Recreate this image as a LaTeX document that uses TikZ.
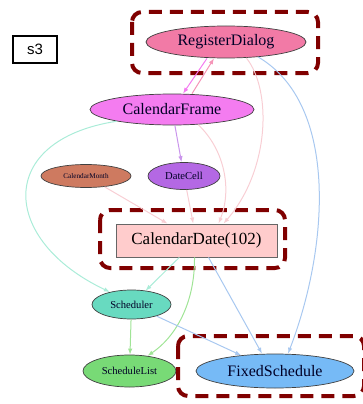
\documentclass[tikz,border=0pt]{standalone}
\usepackage{fontspec}
\setmainfont{Liberation Serif}
\newfontfamily\labelfont{Liberation Sans}
\usepackage{tikz}
\definecolor{regPink}{RGB}{242,122,166}
\definecolor{frameMagenta}{RGB}{244,124,240}
\definecolor{monthBrown}{RGB}{206,122,96}
\definecolor{cellPurple}{RGB}{180,104,228}
\definecolor{datePink}{RGB}{255,204,204}
\definecolor{schedTeal}{RGB}{104,218,192}
\definecolor{listGreen}{RGB}{120,218,118}
\definecolor{fixedBlue}{RGB}{118,186,246}
\definecolor{hlRed}{RGB}{128,0,0}
\definecolor{edgeTeal}{RGB}{170,236,216}
\definecolor{edgePink}{RGB}{248,206,212}
\definecolor{edgeBlue}{RGB}{168,200,240}
\definecolor{edgeGreen}{RGB}{160,228,150}
\usetikzlibrary{shapes.geometric, arrows.meta}
\tikzstyle{cls} = [draw=black!75, ellipse, inner sep=0pt, line width=0.7pt, text=black!85!blue]
\tikzstyle{focus} = [draw=black!60, rectangle, line width=0.8pt, fill=datePink]
\tikzstyle{hl} = [draw=hlRed, line width=4pt, rounded corners=10pt, dash pattern=on 13pt off 8pt]
\tikzstyle{dep} = [->, line width=1pt]
\tikzstyle{tag} = [draw, line width=1.6pt, rectangle, minimum width=44pt, minimum height=27pt]

\begin{document}
\begin{tikzpicture}[x=1pt, y=-1pt, >={Latex[length=6pt,width=4.5pt]}]
        \useasboundingbox (0,0) rectangle (363,404);
        % the classes of the graph
        \node [tag, font=\labelfont\fontsize{15}{17}\selectfont] (s3) at (35,49.5) {s3};
        \node [cls, fill=regPink, minimum width=160pt, minimum height=32pt, font=\fontsize{16}{18}\selectfont] (RegisterDialog) at (226,42) {RegisterDialog};
        \node [cls, fill=frameMagenta, minimum width=164pt, minimum height=31pt, font=\fontsize{16}{18}\selectfont] (CalendarFrame) at (172,109.5) {CalendarFrame};
        \node [cls, fill=monthBrown, minimum width=90pt, minimum height=23pt, font=\fontsize{7.2}{8}\selectfont] (CalendarMonth) at (86,176) {CalendarMonth};
        \node [cls, fill=cellPurple, minimum width=72pt, minimum height=27pt, font=\fontsize{10.6}{12}\selectfont] (DateCell) at (184,176) {DateCell};
        \node [focus, minimum width=161pt, minimum height=33pt, font=\fontsize{17}{19}\selectfont] (CalendarDate) at (196.5,240.5) {CalendarDate(102)};
        \node [cls, fill=schedTeal, minimum width=79pt, minimum height=29pt, font=\fontsize{10.6}{12}\selectfont] (Scheduler) at (131.5,304.5) {Scheduler};
        \node [cls, fill=listGreen, minimum width=93pt, minimum height=32pt, font=\fontsize{10.6}{12}\selectfont] (ScheduleList) at (129.5,371) {ScheduleList};
        \node [cls, fill=fixedBlue, minimum width=158pt, minimum height=34pt, font=\fontsize{16}{18}\selectfont] (FixedSchedule) at (275,371) {FixedSchedule};

        % highlighted classes
        \draw [hl] (132,12) rectangle (318,73);
        \draw [hl] (100,210) rectangle (285,268);
        \draw [hl] (178,336) rectangle (364,396);

        % dependencies
        \draw [dep, frameMagenta] ([xshift=-19pt]RegisterDialog.south) -- ([xshift=11pt]CalendarFrame.north);
        \draw [dep, regPink!80] ([xshift=20pt]CalendarFrame.north) -- ([xshift=-12pt]RegisterDialog.south);
        \draw [dep, cellPurple!70] (CalendarFrame) -- (DateCell);
        \draw [dep, edgeTeal] (CalendarFrame.192) .. controls (-5,140) and (0,240) .. (Scheduler.150);
        \draw [dep, edgePink] (CalendarMonth) -- (CalendarDate);
        \draw [dep, edgePink] (DateCell) -- (CalendarDate);
        \draw [dep, edgePink] (CalendarFrame.330) .. controls (225,150) and (232,190) .. ([xshift=22pt]CalendarDate.north);
        \draw [dep, edgePink] (RegisterDialog.322) .. controls (272,90) and (270,170) .. ([xshift=27pt]CalendarDate.north);
        \draw [dep, edgeBlue] (RegisterDialog.335) .. controls (340,105) and (328,250) .. ([xshift=13pt]FixedSchedule.north);
        \draw [dep, edgeTeal] (CalendarDate) -- (Scheduler);
        \draw [dep, edgeGreen] ([xshift=-2pt]CalendarDate.south) .. controls (195,300) and (178,335) .. (ScheduleList.40);
        \draw [dep, edgeBlue] ([xshift=12pt]CalendarDate.south) -- ([xshift=-13pt]FixedSchedule.north);
        \draw [dep, edgeGreen] (Scheduler) -- (ScheduleList);
        \draw [dep, edgeBlue] (Scheduler) -- (FixedSchedule);
\end{tikzpicture}
\end{document}
